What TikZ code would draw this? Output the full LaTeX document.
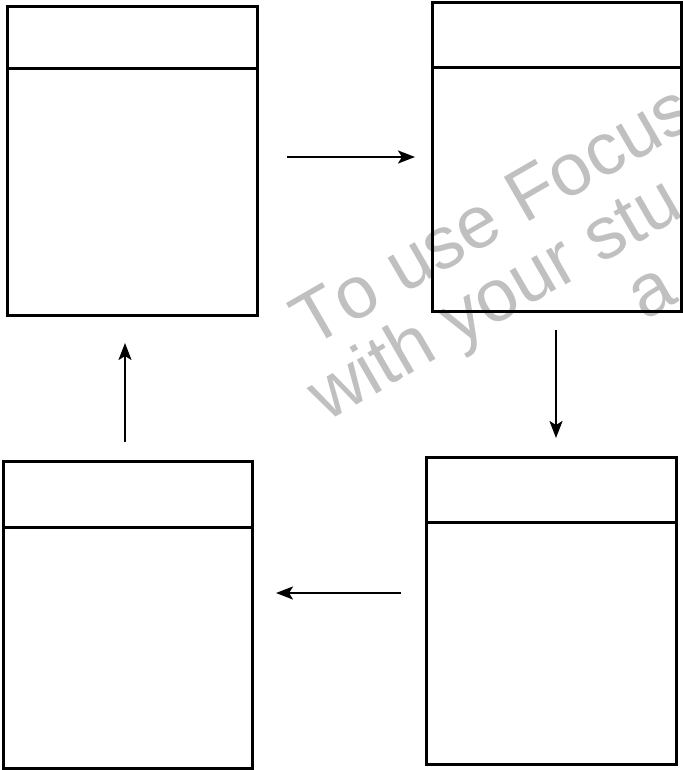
\documentclass[tikz,border=0pt]{standalone}
\usepackage{fontspec}
\setmainfont{Liberation Sans}[Kerning=Off]
\usetikzlibrary{arrows.meta}
\definecolor{wm}{RGB}{192,192,192}
\begin{document}
\begin{tikzpicture}[x=1pt,y=-1pt,
  card/.style={draw=black,line width=3pt,inner sep=0pt,rectangle},
  divider/.style={line width=3pt},
  flow/.style={line width=2.4pt,-{Stealth[length=17pt,width=13pt,inset=4pt]}},
  wmark/.style={text=wm,font=\fontsize{74}{74}\selectfont,anchor=base west,rotate=30,inner sep=0pt}]
\useasboundingbox (0,0) rectangle (682,770);
\begin{scope}
\clip (0,0) rectangle (682,770);
\node[wmark] (w1) at (310.5,348.3) {To use Focus};
\node[wmark] (w2) at (326,423) {with your stu};
\node[wmark] (w3) at (644,322) {a};
\end{scope}
% boxes
\node[card,minimum width=250pt,minimum height=308pt] (A) at (132,161) {};
\node[card,minimum width=249pt,minimum height=308pt] (B) at (556.5,157) {};
\node[card,minimum width=250pt,minimum height=307pt] (C) at (551,610.5) {};
\node[card,minimum width=249pt,minimum height=307pt] (D) at (127.5,614.5) {};
\draw[divider] (A.west |- 0,69) -- (A.east |- 0,69);
\draw[divider] (B.west |- 0,68) -- (B.east |- 0,68);
\draw[divider] (C.west |- 0,522) -- (C.east |- 0,522);
\draw[divider] (D.west |- 0,527) -- (D.east |- 0,527);
% arrow ends
\coordinate (ab1) at (287,157);
\coordinate (ab2) at (415,157);
\coordinate (bc1) at (556,330);
\coordinate (bc2) at (556,438);
\coordinate (cd1) at (401,593);
\coordinate (cd2) at (276,593);
\coordinate (da1) at (125,442);
\coordinate (da2) at (125,343);
\draw[flow] (ab1) -- (ab2);
\draw[flow] (bc1) -- (bc2);
\draw[flow] (cd1) -- (cd2);
\draw[flow] (da1) -- (da2);
\end{tikzpicture}
\end{document}
